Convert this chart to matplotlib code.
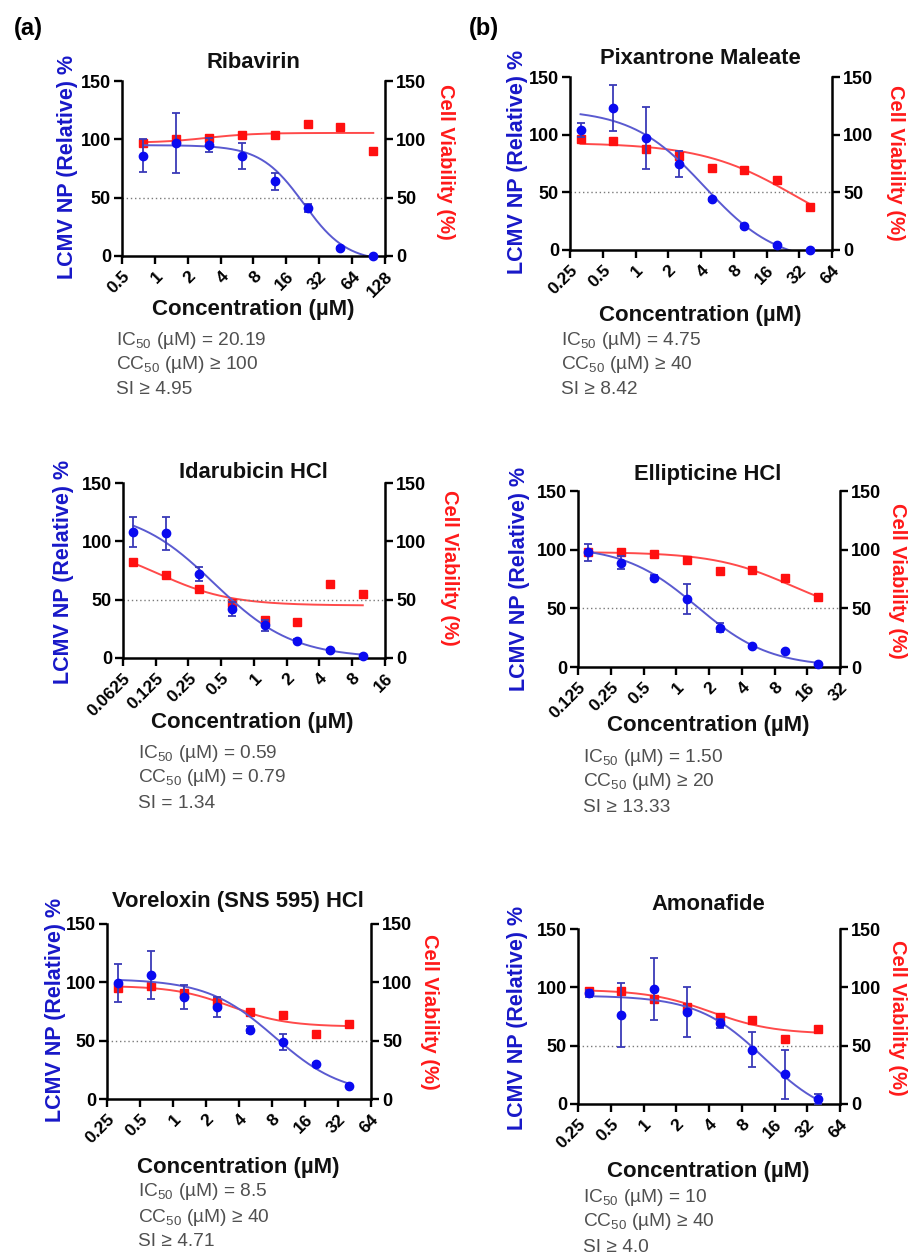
import numpy as np
import matplotlib
matplotlib.use("Agg")
import matplotlib.pyplot as plt
from matplotlib.ticker import NullLocator

plt.rcParams['font.family'] = ['Liberation Sans', 'DejaVu Sans']
plt.rcParams['mathtext.fontset'] = 'custom'
plt.rcParams['mathtext.rm'] = 'Liberation Sans:normal'
plt.rcParams['mathtext.it'] = 'Liberation Sans:italic'
plt.rcParams['mathtext.bf'] = 'Liberation Sans:bold'

# ---------------- data ----------------
titles = ["Ribavirin", "Pixantrone Maleate", "Idarubicin HCl",
          "Ellipticine HCl", "Voreloxin (SNS 595) HCl", "Amonafide"]

rib_ticks = ["0.5", "1", "2", "4", "8", "16", "32", "64", "128"]
pix_ticks = ["0.25", "0.5", "1", "2", "4", "8", "16", "32", "64"]
ida_ticks = ["0.0625", "0.125", "0.25", "0.5", "1", "2", "4", "8", "16"]
ell_ticks = ["0.125", "0.25", "0.5", "1", "2", "4", "8", "16", "32"]
vor_ticks = ["0.25", "0.5", "1", "2", "4", "8", "16", "32", "64"]
amo_ticks = ["0.25", "0.5", "1", "2", "4", "8", "16", "32", "64"]

rib_conc = [0.78, 1.56, 3.125, 6.25, 12.5, 25, 50, 100]
rib_np = [86, 97, 95, 86, 64, 41, 7, 0]
rib_np_err = [14, 25.5, 6, 11, 7, 3.5, 1, 0]
rib_via = [97, 100, 101, 104, 104, 113, 111, 90]
rib_np_fit = [95, -5, 23, 2.2]      # top, bottom, EC50, hill
rib_via_fit = [97, 105.5, 3, 2]

pix_conc = [0.3125, 0.625, 1.25, 2.5, 5, 10, 20, 40]
pix_np = [104, 123.4, 97.4, 74.6, 44, 21, 4, 0]
pix_np_err = [6, 20, 27, 11.5, 1.5, 1.5, 1, 0]
pix_via = [96, 94.8, 87.3, 81.8, 71, 69.5, 61, 37]
pix_np_fit = [122, -12, 4.3, 1.3]
pix_via_fit = [93, 0, 30, 1.0]

ida_conc = [0.078, 0.156, 0.3125, 0.625, 1.25, 2.5, 5, 10]
ida_np = [108, 107, 72, 42, 28, 15, 6.5, 1.4]
ida_np_err = [12.5, 14, 6, 6, 4.5, 1, 1, 0.5]
ida_via = [82, 71, 59, 47, 33, 31, 63.5, 55]
ida_np_fit = [128, 0, 0.43, 1.2]
ida_via_fit = [100, 45, 0.13, 1.3]

ell_conc = [0.156, 0.3125, 0.625, 1.25, 2.5, 5, 10, 20]
ell_np = [97.6, 89, 76, 58, 33.6, 17.6, 13.4, 2.3]
ell_np_err = [7, 5.5, 2, 13, 3.5, 1, 1, 0.5]
ell_via = [98, 98, 96, 91, 82, 82.5, 76, 60]
ell_np_fit = [103, 0, 1.55, 1.3]
ell_via_fit = [98, 40, 11.7, 1.2]

vor_conc = [0.3125, 0.625, 1.25, 2.5, 5, 10, 20, 40]
vor_np = [99.4, 106, 87.4, 78.9, 59.4, 48.9, 30, 10.9]
vor_np_err = [16.5, 20.5, 10.5, 8.3, 3, 7, 1, 1]
vor_via = [95.4, 96.6, 90.9, 82.9, 74.3, 72, 56, 64.6]
vor_np_fit = [103, 3, 8.5, 1.4]
vor_via_fit = [97, 62, 3.34, 1.7]

amo_conc = [0.3125, 0.625, 1.25, 2.5, 5, 10, 20, 40]
amo_np = [95, 76.4, 98.6, 79, 69.3, 46.4, 25.5, 4]
amo_np_err = [3, 27.4, 26.8, 21.5, 3.8, 15, 21, 4.3]
amo_via = [96.6, 96.6, 90.3, 82.8, 74.4, 71.6, 55.8, 64.1]
amo_np_fit = [93, -15, 13, 1.4]
amo_via_fit = [98, 60, 4.16, 1.5]

stats = [
    [r"IC$_{50}$ (µM) = 20.19", r"CC$_{50}$ (µM) ≥ 100", "SI ≥ 4.95"],
    [r"IC$_{50}$ (µM) = 4.75", r"CC$_{50}$ (µM) ≥ 40", "SI ≥ 8.42"],
    [r"IC$_{50}$ (µM) = 0.59", r"CC$_{50}$ (µM) = 0.79", "SI = 1.34"],
    [r"IC$_{50}$ (µM) = 1.50", r"CC$_{50}$ (µM) ≥ 20", "SI ≥ 13.33"],
    [r"IC$_{50}$ (µM) = 8.5", r"CC$_{50}$ (µM) ≥ 40", "SI ≥ 4.71"],
    [r"IC$_{50}$ (µM) = 10", r"CC$_{50}$ (µM) ≥ 40", "SI ≥ 4.0"],
]

# ---------------- layout (pixels) ----------------
W, H = 910, 1257
layout = [
    dict(ax=(122, 385, 81, 256), title=(253, 63), xlab=(253, 310), yl=(68, 167), yr=(445, 162), st=(116, 340)),
    dict(ax=(570, 832, 77, 250), title=(700, 58), xlab=(700, 315), yl=(518, 162), yr=(895, 163), st=(561, 340)),
    dict(ax=(123, 385, 483, 658), title=(253, 472), xlab=(252, 722), yl=(63, 572), yr=(450, 568), st=(138, 753)),
    dict(ax=(578, 840, 491, 667), title=(708, 474), xlab=(708, 725), yl=(520, 579), yr=(898, 581), st=(583, 757)),
    dict(ax=(107, 371, 924, 1099), title=(238, 902), xlab=(238, 1167), yl=(55, 1010), yr=(430, 1012), st=(138, 1192)),
    dict(ax=(578, 840, 929, 1104), title=(708, 905), xlab=(708, 1172), yl=(518, 1018), yr=(898, 1018), st=(583, 1197)),
]

panels = [
    (rib_ticks, rib_conc, rib_np, rib_np_err, rib_via, rib_np_fit, rib_via_fit),
    (pix_ticks, pix_conc, pix_np, pix_np_err, pix_via, pix_np_fit, pix_via_fit),
    (ida_ticks, ida_conc, ida_np, ida_np_err, ida_via, ida_np_fit, ida_via_fit),
    (ell_ticks, ell_conc, ell_np, ell_np_err, ell_via, ell_np_fit, ell_via_fit),
    (vor_ticks, vor_conc, vor_np, vor_np_err, vor_via, vor_np_fit, vor_via_fit),
    (amo_ticks, amo_conc, amo_np, amo_np_err, amo_via, amo_np_fit, amo_via_fit),
]

BLUE = '#0a0af0'
ERR_BLUE = '#3a3ab8'
CURVE_BLUE = '#5a5ad0'
RED = '#ff1010'
CURVE_RED = '#ff4a4a'
LAB_BLUE = '#1818c8'
LAB_RED = '#ff1a1a'
GRAY_TXT = '#505050'


def four_pl(x, top, bottom, ec50, hill):
    return bottom + (top - bottom) / (1.0 + (x / ec50) ** hill)


fig = plt.figure(figsize=(W / 100, H / 100), dpi=100)


def fx(x):
    return x / W


def fy(y):
    return 1 - y / H


for i, (ticks, conc, npm, npe, via, npfit, viafit) in enumerate(panels):
    L = layout[i]
    l, r, t, b = L['ax']
    ax = fig.add_axes([fx(l), fy(b), (r - l) / W, (b - t) / H])
    ax2 = ax.twinx()
    ax.set_zorder(ax2.get_zorder() + 1)
    ax.patch.set_visible(False)

    tick_vals = [float(s) for s in ticks]
    for a in (ax, ax2):
        a.set_xscale('log', base=2)
        a.set_xlim(tick_vals[0], tick_vals[-1])
        a.set_ylim(0, 150)
        a.set_yticks([0, 50, 100, 150])
        a.set_yticklabels(["0", "50", "100", "150"], fontsize=13, fontweight='bold')
        a.spines['top'].set_visible(False)
        for s in a.spines.values():
            s.set_linewidth(1.8)
        a.tick_params(axis='both', direction='out', length=6, width=1.7, pad=2)
    ax.spines['right'].set_visible(False)
    ax2.spines['left'].set_visible(False)
    ax2.spines['bottom'].set_visible(False)

    ax.set_xticks(tick_vals)
    ax.set_xticklabels(ticks, rotation=45, ha='right', rotation_mode='anchor',
                       fontsize=12.5, fontweight='bold')
    ax.xaxis.set_minor_locator(NullLocator())
    ax2.xaxis.set_minor_locator(NullLocator())
    ax.tick_params(axis='x', pad=3)

    # 50% reference line
    ax.axhline(50, color='#7a7a7a', lw=1.0, ls=(0, (1, 2)), zorder=1)

    xs = np.geomspace(conc[0], conc[-1], 300)
    ax2.plot(xs, four_pl(xs, *viafit), color=CURVE_RED, lw=1.4, zorder=2)
    ax2.plot(conc, via, 's', color=RED, ms=5.5, mec=RED, clip_on=False, zorder=3)

    ax.plot(xs, four_pl(xs, *npfit), color=CURVE_BLUE, lw=1.4, zorder=2)
    ax.errorbar(conc, npm, yerr=npe, fmt='o', color=BLUE, ecolor=ERR_BLUE,
                elinewidth=1.3, capsize=3, capthick=1.3, ms=6, clip_on=False, zorder=4)

    # texts
    tx, ty = L['title']
    fig.text(fx(tx), fy(ty), titles[i], ha='center', va='center', fontsize=15.8,
             fontweight='bold', color='#111111')
    xx, xy = L['xlab']
    fig.text(fx(xx), fy(xy), "Concentration (µM)", ha='center', va='center',
             fontsize=16, fontweight='bold', color='#111111')
    yx, yy = L['yl']
    fig.text(fx(yx), fy(yy), "LCMV NP (Relative) %", ha='center', va='center',
             rotation=90, fontsize=15.5, fontweight='bold', color=LAB_BLUE)
    rx, ry = L['yr']
    fig.text(fx(rx), fy(ry), "Cell Viability (%)", ha='center', va='center',
             rotation=270, fontsize=14.5, fontweight='bold', color=LAB_RED)
    sx, sy = L['st']
    for k, line in enumerate(stats[i]):
        fig.text(fx(sx), fy(sy + 25 * k), line, ha='left', va='center',
                 fontsize=13.8, fontweight='normal', color=GRAY_TXT)

fig.text(fx(14), fy(28), "(a)", ha='left', va='center', fontsize=17, fontweight='bold')
fig.text(fx(469), fy(28), "(b)", ha='left', va='center', fontsize=17, fontweight='bold')

fig.savefig("out.png", dpi=100, facecolor='white')
